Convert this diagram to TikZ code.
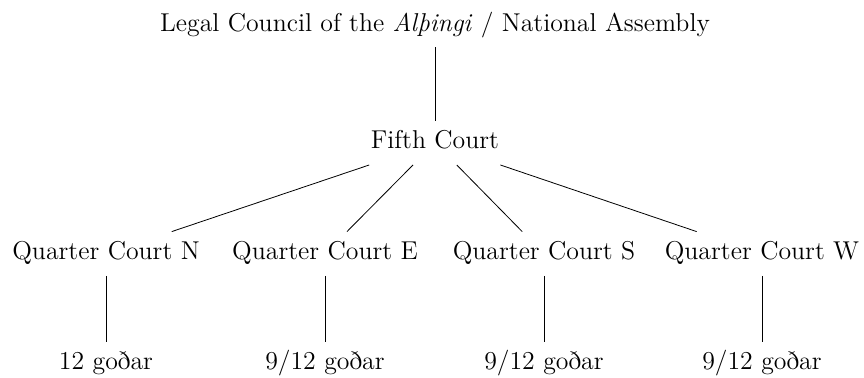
\documentclass[tikz,border=0pt]{standalone}
\begin{document}
\begin{tikzpicture}[x=0.5pt,y=-0.5pt,
    every node/.style={anchor=base,font=\fontsize{12.9}{15}\selectfont,
      text height=9pt,text depth=2.8pt,inner xsep=2pt,inner ysep=5pt}]
      \useasboundingbox (0,0) rectangle (864,378);
      \draw
        (435,31.5) node (council){Legal Council of the \emph{Alþingi} / National Assembly}
        (435,149) node (fifth){Fifth Court}
        (106,260) node (qn){Quarter Court N}
        (325,260) node (qe){Quarter Court E}
        (544,260) node (qs){Quarter Court S}
        (762,260) node (qw){Quarter Court W}
        (106,370) node (gn){12 goðar}
        (325,370) node (ge){9/12 goðar}
        (544,370) node (gs){9/12 goðar}
        (762,370) node (gw){9/12 goðar};
      \begin{scope}[-]
        \draw (council) to (fifth);
        \draw (fifth) to (qn);
        \draw (fifth) to (qe);
        \draw (fifth) to (qs);
        \draw (fifth) to (qw);
        \draw (qn) to (gn);
        \draw (qe) to (ge);
        \draw (qs) to (gs);
        \draw (qw) to (gw);
      \end{scope}
    \end{tikzpicture}
\end{document}
